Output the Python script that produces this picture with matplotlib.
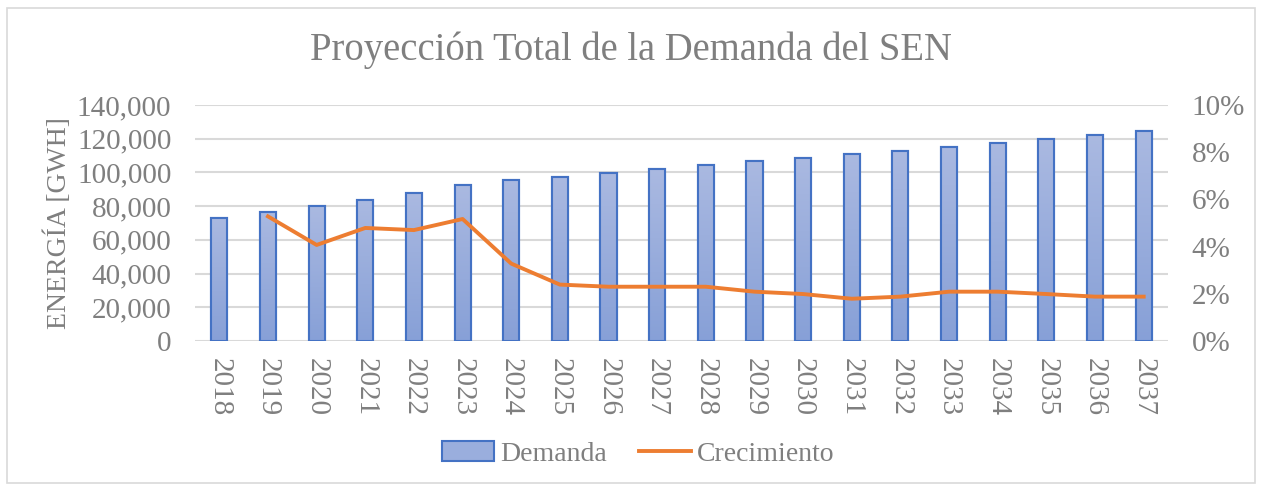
import numpy as np
import matplotlib
matplotlib.use("Agg")
import matplotlib.pyplot as plt
import matplotlib.colors as mplc
from matplotlib.patches import Rectangle
from matplotlib.ticker import FuncFormatter

# Data
years = [str(y) for y in range(2018, 2038)]
demanda = [73000, 76700, 79900, 83900, 87600, 92300, 95300, 97500, 99900, 102000,
           104400, 106800, 108800, 110900, 112700, 115100, 117700, 119800, 122200, 124400]
crec_years = years[1:]
crecimiento = [5.28, 4.07, 4.79, 4.70, 5.17, 3.28, 2.39, 2.30, 2.30,
               2.30, 2.09, 1.99, 1.79, 1.88, 2.09, 2.09, 1.99, 1.88, 1.88]

GREY = "#7f7f7f"
plt.rcParams["font.family"] = ["Liberation Serif", "DejaVu Serif"]

fig = plt.figure(figsize=(12.62, 4.91), dpi=100)
ax = fig.add_axes([195 / 1262, 1 - 341 / 491, 973 / 1262, 236 / 491])

x = np.arange(len(years))
bars = ax.bar(x, demanda, width=0.33, color="#9aaedd", edgecolor="#4472c4",
              linewidth=1.5, zorder=3)

# vertical gradient fill inside each bar
cm = mplc.LinearSegmentedColormap.from_list("", ["#87a0d7", "#aab9e1"])
grad = np.linspace(0, 1, 256).reshape(-1, 1)
for b in bars:
    bx, by = b.get_x(), b.get_y()
    im = ax.imshow(grad, cmap=cm, aspect="auto", origin="lower",
                   extent=[bx, bx + b.get_width(), by, by + b.get_height()], zorder=3)
    im.set_clip_path(b)
    ax.add_patch(Rectangle((bx, by), b.get_width(), b.get_height(), fill=False,
                           edgecolor="#4472c4", linewidth=1.5, zorder=4))

ax.set_xlim(-0.5, len(years) - 0.5)
ax.set_ylim(0, 140000)
ax.set_yticks(np.arange(0, 140001, 20000))
ax.yaxis.set_major_formatter(FuncFormatter(lambda v, p: "{:,.0f}".format(v)))
ax.set_xticks(x)
ax.set_xticklabels(years, rotation=270)
ax.grid(axis="y", color="#d9d9d9", linewidth=1.5, zorder=0)
ax.set_axisbelow(True)
for s in ax.spines.values():
    s.set_visible(False)
ax.tick_params(length=0, labelsize=21, colors=GREY, pad=17)
ax.tick_params(axis="x", pad=12)
ax.set_ylabel("ENERGÍA [GWH]", fontsize=20, color=GREY)
ax.yaxis.set_label_coords((72 - 195) / 973, 0.5)

ax2 = ax.twinx()
line, = ax2.plot([years.index(y) for y in crec_years], crecimiento,
                 color="#ed7d31", linewidth=2.8, zorder=5)
ax2.set_ylim(0, 10)
ax2.set_yticks(np.arange(0, 11, 2))
ax2.yaxis.set_major_formatter(FuncFormatter(lambda v, p: "{:.0f}%".format(v)))
for s in ax2.spines.values():
    s.set_visible(False)
ax2.tick_params(length=0, labelsize=21, colors=GREY, pad=17)

fig.suptitle("Proyección Total de la Demanda del SEN", fontsize=27.8, color=GREY,
             x=0.5, y=1 - 50 / 491, va="center")

leg_bar = Rectangle((0, 0), 1, 1, facecolor="#9aaedd", edgecolor="#4472c4", linewidth=1.5)
fig.legend([leg_bar, line], ["Demanda", "Crecimiento"], loc="center",
           bbox_to_anchor=(638 / 1262, 1 - 454 / 491), ncol=2, frameon=False,
           fontsize=20, labelcolor=GREY, handlelength=1.9, handletextpad=0.2,
           columnspacing=1.15)

# outer chart frame
fig.patches.append(Rectangle((7 / 1262, 8 / 491), 1248 / 1262, 475 / 491,
                             transform=fig.transFigure, fill=False,
                             edgecolor="#d9d9d9", linewidth=1.2))

fig.savefig("out.png", dpi=100)
